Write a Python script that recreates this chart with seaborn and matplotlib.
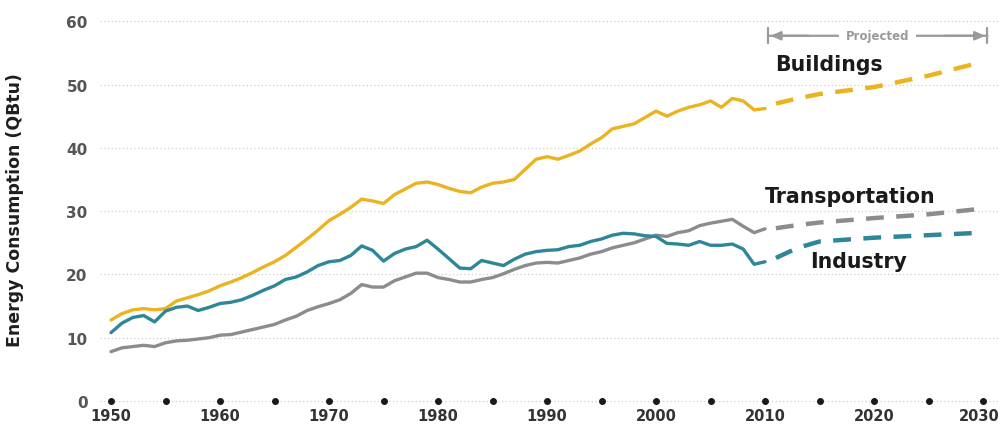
import matplotlib
matplotlib.use("Agg")
import matplotlib.pyplot as plt
import matplotlib.transforms as mtransforms
import numpy as np
import pandas as pd
import seaborn as sns

# Historical energy consumption by sector (QBtu), 1950-2010
years = list(range(1950, 2011))

buildings = [12.8, 13.8, 14.4, 14.6, 14.4, 14.6, 15.8, 16.3, 16.8, 17.4,
             18.2, 18.8, 19.5, 20.3, 21.2, 22.0, 23.0, 24.3, 25.6, 27.0,
             28.5, 29.5, 30.6, 31.9, 31.6, 31.2, 32.6, 33.5, 34.4, 34.6,
             34.2, 33.6, 33.1, 32.9, 33.8, 34.4, 34.6, 35.0, 36.6, 38.2,
             38.6, 38.2, 38.8, 39.5, 40.6, 41.6, 43.0, 43.4, 43.8, 44.8,
             45.8, 45.0, 45.8, 46.4, 46.8, 47.4, 46.4, 47.8, 47.4, 46.0,
             46.2]

transportation = [7.8, 8.4, 8.6, 8.8, 8.6, 9.2, 9.5, 9.6, 9.8, 10.0,
                  10.4, 10.5, 10.9, 11.3, 11.7, 12.1, 12.8, 13.4, 14.3, 14.9,
                  15.4, 16.0, 17.0, 18.4, 18.0, 18.0, 19.0, 19.6, 20.2, 20.2,
                  19.5, 19.2, 18.8, 18.8, 19.2, 19.5, 20.1, 20.8, 21.4, 21.8,
                  21.9, 21.8, 22.2, 22.6, 23.2, 23.6, 24.2, 24.6, 25.0, 25.6,
                  26.2, 26.0, 26.6, 26.9, 27.7, 28.1, 28.4, 28.7, 27.6, 26.6,
                  27.2]

industry = [10.8, 12.3, 13.2, 13.5, 12.5, 14.2, 14.8, 15.0, 14.3, 14.8,
            15.4, 15.6, 16.0, 16.7, 17.5, 18.2, 19.2, 19.6, 20.4, 21.4,
            22.0, 22.2, 23.0, 24.5, 23.8, 22.1, 23.3, 24.0, 24.4, 25.4,
            24.0, 22.5, 21.0, 20.9, 22.2, 21.8, 21.4, 22.4, 23.2, 23.6,
            23.8, 23.9, 24.4, 24.6, 25.2, 25.6, 26.2, 26.5, 26.4, 26.1,
            26.0, 24.9, 24.8, 24.6, 25.2, 24.6, 24.6, 24.8, 24.0, 21.6,
            22.0]

# Projections to 2030
proj_years = [2011, 2013, 2015, 2020, 2025, 2030]
buildings_proj = [47.0, 47.8, 48.5, 49.6, 51.4, 53.6]
transportation_proj = [27.3, 27.8, 28.2, 28.9, 29.5, 30.4]
industry_proj = [22.6, 24.2, 25.2, 25.8, 26.2, 26.6]

sectors = ["Buildings", "Transportation", "Industry"]
x_ticks = [1950, 1960, 1970, 1980, 1990, 2000, 2010, 2020, 2030]
y_ticks = [0, 10, 20, 30, 40, 50, 60]

hist = pd.concat([
    pd.DataFrame({"year": years, "value": buildings, "sector": "Buildings"}),
    pd.DataFrame({"year": years, "value": transportation, "sector": "Transportation"}),
    pd.DataFrame({"year": years, "value": industry, "sector": "Industry"}),
])
proj = pd.concat([
    pd.DataFrame({"year": proj_years, "value": buildings_proj, "sector": "Buildings"}),
    pd.DataFrame({"year": proj_years, "value": transportation_proj, "sector": "Transportation"}),
    pd.DataFrame({"year": proj_years, "value": industry_proj, "sector": "Industry"}),
])

palette = {"Buildings": "#ECB320", "Transportation": "#8C8C8C", "Industry": "#2E8798"}

sns.set_theme(style="white")
plt.rcParams["font.family"] = ["DejaVu Sans"]

fig = plt.figure(figsize=(10.02, 4.27), dpi=100)
ax = fig.add_axes([0.0999, 0.0511, 0.8975, 0.9117])

# gridlines
ax.set_axisbelow(True)
ax.yaxis.grid(True, linestyle=(0, (1, 2)), color="#cfcfcf", linewidth=0.9)
ax.xaxis.grid(False)
for s in ax.spines.values():
    s.set_visible(False)

# historical (solid) and projected (dashed) series
sns.lineplot(data=hist, x="year", y="value", hue="sector", palette=palette,
             linewidth=2.4, legend=False, ax=ax, sort=True)
for sec in sectors:
    d = proj[proj["sector"] == sec]
    sns.lineplot(data=d, x="year", y="value", color=palette[sec],
                 linewidth=3.2, legend=False, ax=ax, sort=True,
                 linestyle=(0, (4.0, 2.8)))

# year markers along the baseline
dot_years = list(range(1950, 2031, 5))
ax.plot(dot_years, [0] * len(dot_years), "o", color="#1a1a1a", markersize=4,
        zorder=5, clip_on=False)

ax.set_xlim(1949, 2031.5)
ax.set_ylim(-0.5, 61)
ax.set_xticks(x_ticks)
ax.set_yticks(y_ticks)
ax.set_xticklabels([str(t) for t in x_ticks], fontsize=10.5, fontweight="heavy",
                   color="#333333")
ax.set_yticklabels([str(t) for t in y_ticks], fontsize=11, fontweight="heavy",
                   color="#555555")
ax.tick_params(axis="x", length=0, pad=3)
ax.tick_params(axis="y", length=0, pad=9)
# keep the last year label inside the canvas
last = ax.get_xticklabels()[-1]
last.set_transform(last.get_transform() +
                   mtransforms.ScaledTranslation(-4 / 100, 0, fig.dpi_scale_trans))
ax.set_xlabel("")
ax.set_ylabel("Energy Consumption (QBtu)", fontsize=12.5, fontweight="bold",
              color="#1e1e1e")
ax.yaxis.set_label_coords(-0.085, 0.5)

# series labels
label_kw = dict(fontsize=14.8, fontweight="heavy", color="#1a1a1a",
                va="center", ha="left")
ax.text(2010.9, 53.2, "Buildings", **label_kw)
ax.text(2010.0, 32.4, "Transportation", **label_kw)
ax.text(2014.1, 22.1, "Industry", **label_kw)

# projection span marker
span_y = 57.7
gray = "#9a9a9a"
ax.annotate("", xy=(2010.3, span_y), xytext=(2030.4, span_y),
            arrowprops=dict(arrowstyle="|-|,widthA=0.45,widthB=0.45",
                            color=gray, lw=1.6, shrinkA=0, shrinkB=0))
ax.text(2020.3, span_y, "Projected", fontsize=8.5, fontweight="heavy",
        color=gray, ha="center", va="center",
        bbox=dict(facecolor="white", edgecolor="none", pad=5))
ax.annotate("", xy=(2010.5, span_y), xytext=(2014, span_y),
            arrowprops=dict(arrowstyle="-|>,head_length=0.5,head_width=0.22",
                            color=gray, lw=1.6, shrinkA=0, shrinkB=0))
ax.annotate("", xy=(2030.2, span_y), xytext=(2026.5, span_y),
            arrowprops=dict(arrowstyle="-|>,head_length=0.5,head_width=0.22",
                            color=gray, lw=1.6, shrinkA=0, shrinkB=0))

fig.savefig("out.png", dpi=100, facecolor="white")
